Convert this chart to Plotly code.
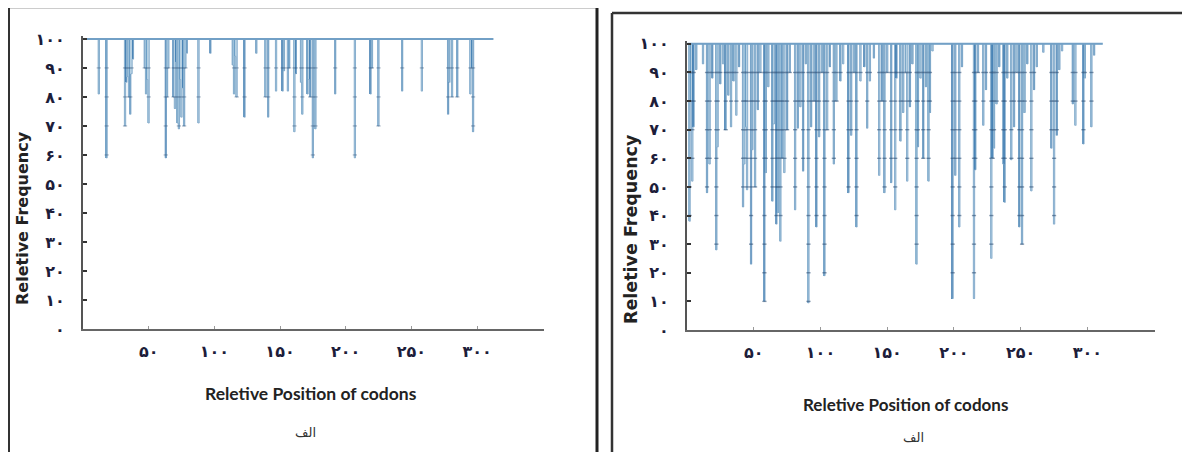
import plotly.graph_objects as go

# ---------------- data ----------------
# Left panel ("الف"): codon positions whose relative frequency dips below 100
left_n_codons = 312
left_dip_pos = [12, 18, 32, 33, 34, 35, 36, 37, 38, 47, 48, 49, 50, 63, 64, 65,
                69, 70, 71, 72, 73, 74, 75, 76, 77, 78, 79, 88, 97, 114, 115, 116,
                117, 123, 132, 139, 141, 147, 152, 153, 156, 157, 161, 162, 166,
                167, 171, 172, 173, 175, 177, 192, 207, 219, 220, 225, 243, 258,
                278, 279, 281, 285, 295, 296, 297]
left_dip_val = [81, 59, 70, 85, 87, 80, 74, 88, 93, 90, 81, 86, 71, 59, 80, 90,
                80, 76, 92, 71, 69, 86, 73, 83, 70, 90, 95, 71, 95, 91, 81, 94,
                80, 73, 95, 80, 73, 82, 82, 89, 82, 90, 68, 88, 85,
                74, 81, 86, 80, 59, 69, 81, 59, 81, 90, 70, 82, 82,
                74, 85, 80, 80, 81, 90, 68]

# Right panel
right_n_codons = 311
right_dip_pos = [2, 3, 4, 5, 7, 12, 15, 17, 19, 22, 23, 25, 27, 29, 31, 33, 35, 37,
                 39, 42, 43, 44, 45, 48, 49, 51, 53, 55, 58, 59, 61, 64, 65, 67, 68,
                 70, 71, 73, 75, 77, 81, 83, 85, 87, 89, 91, 93, 95, 97, 99, 101,
                 103, 105, 107, 110, 112, 115, 117, 121, 123, 125, 127, 130, 133,
                 135, 137, 140, 144, 146, 148, 150, 153, 156, 157, 160, 162, 164,
                 165, 167, 169, 172, 173, 175, 177, 179, 181, 182, 184, 199, 201,
                 204, 206, 215, 216, 218, 222, 224, 228, 229, 230, 232, 234, 237,
                 238, 240, 243, 245, 247, 249, 251, 253, 255, 258, 260, 262, 267,
                 273, 275, 277, 279, 281, 289, 291, 297, 298, 303, 305]
right_dip_val = [38, 80, 52, 71, 91, 93, 48, 58, 88, 28, 64, 86, 93, 70, 82, 71, 87, 75,
                 92, 43, 58, 71, 49, 23, 63, 50, 77, 90, 10, 55, 85, 45, 72, 37, 41,
                 31, 60, 55, 70, 90, 42, 70.5, 78, 55.5, 93, 9.5, 71, 80, 36, 67.5, 90,
                 19, 70, 92, 58, 80, 87, 93, 48, 68, 90, 36, 87, 92,
                 70.5, 87, 95, 54, 80, 48, 90, 51.5, 42, 88, 66, 76, 90,
                 52, 78, 93, 23, 64, 88, 60, 85, 52, 76, 97.5, 11, 54,
                 36, 92, 11, 56, 90, 71.5, 84, 25, 60, 63.5, 79, 92, 58,
                 44.6, 88, 59.5, 71, 90, 36, 30, 76, 93, 48.6, 84, 92, 97,
                 63.5, 37, 68, 91, 97.5, 79, 71.5, 65, 88, 71, 96]

y_ticks = [0, 10, 20, 30, 40, 50, 60, 70, 80, 90, 100]
y_tick_text = ["۰", "۱۰", "۲۰", "۳۰", "۴۰", "۵۰", "۶۰", "۷۰", "۸۰", "۹۰", "۱۰۰"]
x_ticks = [50, 100, 150, 200, 250, 300]
x_tick_text = ["۵۰", "۱۰۰", "۱۵۰", "۲۰۰", "۲۵۰", "۳۰۰"]

y_title = "Reletive Frequency"
x_title = "Reletive Position of codons"
panel_label = "الف"

# ---------------- figure ----------------
# the page body has an 8px margin, so the figure is sized/offset to land on the window
OX, OY = 8, 8
W, H = 1190 - OX, 452 - OY
palette = ["#9cc0da", "#6d9fc6", "#b4cfe2", "#4a84b6", "#88b0cf"]
fig = go.Figure()


def px(x):
    return (x - OX) / W


def py(y):
    return 1 - (y - OY) / H


def full_series(n, dip_pos, dip_val):
    vals = {p: 100.0 for p in range(1, n + 1)}
    for p, v in zip(dip_pos, dip_val):
        vals[p] = v
    xs = list(range(1, n + 1))
    return xs, [vals[p] for p in xs]


def add_panel(n, dip_pos, dip_val, xa, ya, dot_opacity):
    cols = [palette[i % len(palette)] for i in range(len(dip_pos))]
    fig.add_trace(go.Bar(
        x=dip_pos, y=[100 - v for v in dip_val], base=dip_val, width=1.1,
        marker=dict(color=cols, line=dict(width=0)),
        xaxis=xa, yaxis=ya, showlegend=False, hoverinfo="skip"))
    xs, ys = full_series(n, dip_pos, dip_val)
    fig.add_trace(go.Scatter(
        x=xs, y=ys, mode="lines", line=dict(color="#84accc", width=0.9, shape="hvh"),
        xaxis=xa, yaxis=ya, showlegend=False, hoverinfo="skip"))
    # dark marks where bars cross each 10-level
    mx, my = [], []
    for p, v in zip(dip_pos, dip_val):
        for t in y_ticks:
            if v <= t < 100:
                mx.append(p)
                my.append(t)
    fig.add_trace(go.Scatter(
        x=mx, y=my, mode="markers",
        marker=dict(symbol="line-ew", size=3, color="#2a4a70",
                    line=dict(color="#2a4a70", width=1.4)),
        opacity=dot_opacity, xaxis=xa, yaxis=ya, showlegend=False, hoverinfo="skip"))
    # top line at 100
    fig.add_trace(go.Scatter(
        x=[xs[0] - 0.5, xs[-1] + 0.5], y=[100, 100], mode="lines",
        line=dict(color="#72a0c6", width=2),
        xaxis=xa, yaxis=ya, showlegend=False, hoverinfo="skip"))


add_panel(left_n_codons, left_dip_pos, left_dip_val, "x", "y", 0.35)
add_panel(right_n_codons, right_dip_pos, right_dip_val, "x2", "y2", 0.55)

tickfont = dict(family="DejaVu Sans", size=16, color="#1d1d3a", weight="bold")
common_x = dict(showline=True, linecolor="#666", linewidth=2, showgrid=False, zeroline=False,
                tickmode="array", tickvals=x_ticks, ticktext=x_tick_text,
                ticks="inside", ticklen=3, tickwidth=1, tickcolor="#999",
                tickfont=tickfont, ticklabelstandoff=7, automargin=False)
common_y = dict(showline=True, linecolor="#555", linewidth=2, showgrid=False, zeroline=False,
                tickmode="array", tickvals=y_ticks, ticktext=y_tick_text,
                ticks="inside", ticklen=4, tickwidth=2, tickcolor="#333",
                tickfont=tickfont, ticklabelstandoff=13, automargin=False)

fig.update_layout(
    width=W, height=H, margin=dict(l=0, r=0, t=0, b=0, autoexpand=False),
    paper_bgcolor="white", plot_bgcolor="white", barmode="overlay", bargap=0,
    xaxis=dict(domain=[px(83), px(544)], range=[0, 351], anchor="y", **common_x),
    yaxis=dict(domain=[py(329), py(36)], range=[0, 101], anchor="x", **common_y),
    xaxis2=dict(domain=[px(687), px(1155)], range=[0, 350.6], anchor="y2", **common_x),
    yaxis2=dict(domain=[py(330), py(41)], range=[0, 101], anchor="x2", **common_y),
)

ann = []
ann.append(dict(text=y_title, x=px(22), y=py(218), textangle=-90,
                font=dict(family="DejaVu Sans", size=16, color="#222", weight="bold")))
ann.append(dict(text=y_title, x=px(631), y=py(229), textangle=-90,
                font=dict(family="DejaVu Sans", size=17.5, color="#222", weight="bold")))
ann.append(dict(text=x_title, x=px(311), y=py(393),
                font=dict(family="Lato", size=17.5, color="#222", weight="bold")))
ann.append(dict(text=x_title, x=px(905), y=py(404),
                font=dict(family="Lato", size=17, color="#222", weight="bold")))
ann.append(dict(text=panel_label, x=px(305), y=py(432),
                font=dict(family="DejaVu Sans", size=13, color="#333")))
ann.append(dict(text=panel_label, x=px(913), y=py(437),
                font=dict(family="DejaVu Sans", size=13, color="#333")))
for a in ann:
    a.update(xref="paper", yref="paper", showarrow=False, xanchor="center", yanchor="middle")
fig.update_layout(annotations=ann)

shapes = [
    dict(x0=px(9), x1=px(597), y0=py(8), y1=py(8), line=dict(color="#999", width=1.2)),
    dict(x0=px(9), x1=px(9), y0=py(8), y1=py(452), line=dict(color="#333", width=2)),
    dict(x0=px(597), x1=px(597), y0=py(8), y1=py(452), line=dict(color="#222", width=3)),
    dict(x0=px(612), x1=px(1190), y0=py(13), y1=py(13), line=dict(color="#333", width=2.5)),
    dict(x0=px(612), x1=px(612), y0=py(13), y1=py(452), line=dict(color="#333", width=2.5)),
]
for s in shapes:
    s.update(type="line", xref="paper", yref="paper")
fig.update_layout(shapes=shapes)

fig.write_html("out.html")
